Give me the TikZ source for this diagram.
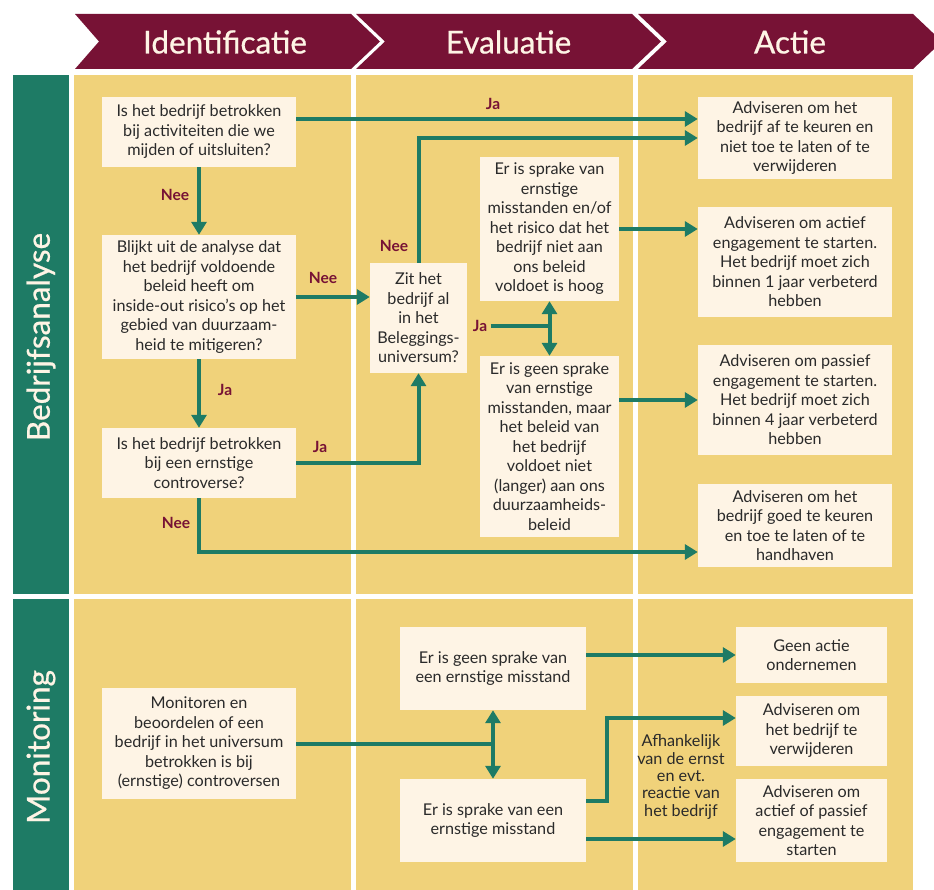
\documentclass[tikz,border=0pt]{standalone}
\usepackage{fontspec}
\setmainfont{Lato}
\newfontfamily\HeadFont{Lato}[FakeBold=0.7]
\usetikzlibrary{arrows.meta}
\definecolor{wine}{HTML}{771235}
\definecolor{sand}{HTML}{F0D27A}
\definecolor{pine}{HTML}{1E7B65}
\definecolor{cream}{HTML}{FEF4E5}
\definecolor{ink}{HTML}{2A2A2A}
\newcommand\BoxFont{\fontsize{16.2}{19.5}\selectfont}

\begin{document}
\begin{tikzpicture}[x=1pt,y=-1pt,
		box/.style={fill=cream,text=ink,align=center,inner sep=2pt,font=\BoxFont},
		dims/.style 2 args={minimum width=#1pt,minimum height=#2pt},
		flow/.style={pine,line width=4pt,-{Triangle[length=13pt,width=15pt]}},
		link/.style={pine,line width=4pt},
		answer/.style={text=wine,font=\fontsize{15.5}{17}\selectfont\bfseries},
		head/.style={text=cream,font=\HeadFont\fontsize{31.5}{33}\selectfont},
	]
	\useasboundingbox (0,0) rectangle (934,890);
	
	% we draw the yellow columns and the green lanes
	\foreach \xl/\xr in {74/351,356/633,638/913}
	{
		\fill[sand] (\xl,75) rectangle (\xr,594);
		\fill[sand] (\xl,599) rectangle (\xr,890);
	}
	\fill[pine] (13,75) rectangle (69,594);
	\fill[pine] (13,599) rectangle (69,890);
	\node[head,rotate=90] (lane1) at (41,337) {Bedrijfsanalyse};
	\node[head,rotate=90] (lane2) at (41,747) {Monitoring};
	
	% we draw the chevrons on top
	\foreach \xl/\xn/\xr/\txt [count=\i] in
	{75/99/351/Identificatie,356/385/632/Evaluatie,638/667/913/Actie}
	{
		\fill[wine] (\xl,14) -- (\xr,14) -- (\xr+29,41.5) -- (\xr,69)
		-- (\xl,69) -- (\xn,41.5) -- cycle;
		\node[head] (head\i) at ({(\xn+\xr)/2},42) {\txt};
	}
	
	% the boxes of the analysis
	\node[box,dims={194}{70}] (B1) at (199,132)
	{Is het bedrijf betrokken\\bij activiteiten die we\\mijden of uitsluiten?};
	\node[box,dims={194}{124}] (B2) at (199,297)
	{Blijkt uit de analyse dat\\het bedrijf voldoende\\beleid heeft om\\inside-out risico’s op het\\gebied van duurzaam-\\heid te mitigeren?};
	\node[box,dims={194}{70}] (B3) at (199,463)
	{Is het bedrijf betrokken\\bij een ernstige\\controverse?};
	\node[box,dims={97}{110}] (B4) at (418.5,318)
	{Zit het\\bedrijf al\\in het\\Beleggings-\\universum?};
	\node[box,dims={139}{144}] (B5) at (549.5,229)
	{Er is sprake van\\ernstige\\misstanden en/of\\het risico dat het\\bedrijf niet aan\\ons beleid\\voldoet is hoog};
	\node[box,dims={139}{181}] (B6) at (549.5,446.5)
	{Er is geen sprake\\van ernstige\\misstanden, maar\\het beleid van\\het bedrijf\\voldoet niet\\(langer) aan ons\\duurzaamheids-\\beleid};
	
	% the boxes of the actions
	\node[box,dims={194}{82}] (A1) at (795,138)
	{Adviseren om het\\bedrijf af te keuren en\\niet toe te laten of te\\verwijderen};
	\node[box,dims={194}{110}] (A2) at (795,262)
	{Adviseren om actief\\engagement te starten.\\Het bedrijf moet zich\\binnen 1 jaar verbeterd\\hebben};
	\node[box,dims={194}{110}] (A3) at (795,400)
	{Adviseren om passief\\engagement te starten.\\Het bedrijf moet zich\\binnen 4 jaar verbeterd\\hebben};
	\node[box,dims={194}{83}] (A4) at (795,525.5)
	{Adviseren om het\\bedrijf goed te keuren\\en toe te laten of te\\handhaven};
	
	% the boxes of the monitoring
	\node[box,dims={194}{111}] (M1) at (199,743.5)
	{Monitoren en\\beoordelen of een\\bedrijf in het universum\\betrokken is bij\\(ernstige) controversen};
	\node[box,dims={186}{83}] (M2) at (493,668.5)
	{Er is geen sprake van\\een ernstige misstand};
	\node[box,dims={186}{83}] (M3) at (493,820.5)
	{Er is sprake van een\\ernstige misstand};
	\node[box,dims={151}{56}] (M4) at (811.5,655)
	{Geen actie\\ondernemen};
	\node[box,dims={151}{70}] (M5) at (811.5,731)
	{Adviseren om\\het bedrijf te\\verwijderen};
	\node[box,dims={151}{83}] (M6) at (811.5,820.5)
	{Adviseren om\\actief of passief\\engagement te\\starten};
	\node[text=ink,align=center,font=\fontsize{16.2}{17.3}\selectfont] (note) at (681,777)
	{Afhankelijk\\van de ernst\\en evt.\\reactie van\\het bedrijf};
	
	% we draw the arrows of the analysis
	\draw[flow] ([yshift=13pt]B1.east) -- ([yshift=13pt]B1.east -| A1.west);
	\draw[flow] (B1.south) -- (B2.north);
	\draw[flow] (B2.east) -- (B2.east -| B4.west);
	\draw[flow] (B2.south) -- (B3.north);
	\draw[flow] (B3.east) -| (B4.south);
	\draw[flow] (B3.south) |- ([yshift=-26.5pt]A4.west);
	\draw[flow] (B4.north) |- (A1.west);
	\draw[flow] (B5.east) -- (B5.east -| A2.west);
	\draw[flow] (B6.east |- A3.west) -- (A3.west);
	
	% the split after the Ja
	\node[answer] (jaFork) at (480,326) {Ja};
	\coordinate (fork1) at (B5.south |- jaFork.east);
	\draw[link] (jaFork.east) -- (fork1);
	\draw[flow] (fork1) -- (B5.south);
	\draw[flow] (fork1) -- (B6.north);
	
	% we draw the arrows of the monitoring
	\coordinate (fork2) at (M2.south |- M1.east);
	\draw[link] (M1.east) -- (fork2);
	\draw[flow] (fork2) -- (M2.south);
	\draw[flow] (fork2) -- (M3.north);
	\draw[flow] (M2.east |- M4.west) -- (M4.west);
	\draw[flow] ([yshift=19.5pt]M3.east) -- ++(21,0) |- ([yshift=13pt]M5.west);
	\draw[flow] ([yshift=-18.5pt]M3.east) -- ([yshift=-18.5pt]M3.east -| M6.west);
	
	% we add the answers
	\node[answer] (ja1) at (493,104) {Ja};
	\node[answer] (nee1) at (175,195) {Nee};
	\node[answer] (nee2) at (323,278) {Nee};
	\node[answer] (nee3) at (394,246) {Nee};
	\node[answer] (ja2) at (225,390) {Ja};
	\node[answer] (ja3) at (320,447) {Ja};
	\node[answer] (nee4) at (176,523) {Nee};
\end{tikzpicture}
\end{document}
